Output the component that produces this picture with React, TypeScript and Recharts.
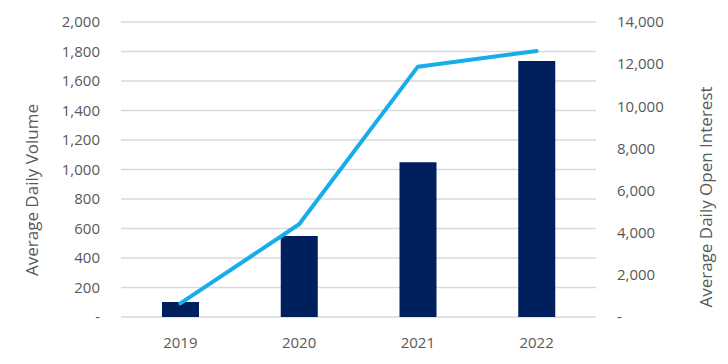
import { ComposedChart, Bar, Line, XAxis, YAxis, CartesianGrid } from "recharts";

const years = ["2019", "2020", "2021", "2022"];
const avgDailyVolume = [102, 550, 1050, 1735];
const avgDailyOpenInterest = [650, 4400, 11880, 12620];
const volumeTicks = [0, 200, 400, 600, 800, 1000, 1200, 1400, 1600, 1800, 2000];
const openInterestTicks = [0, 2000, 4000, 6000, 8000, 10000, 12000, 14000];

const data = years.map((year, i) => ({
  year,
  volume: avgDailyVolume[i],
  openInterest: avgDailyOpenInterest[i],
}));

const FONT = "'Open Sans', sans-serif";
const GRAY = "#595959";

const fmt = (v: number) => (v === 0 ? "-" : v.toLocaleString("en-US"));

// Excel-style rotated axis title
const axisTitle = (text: string, x: number, y: number) => () => (
  <text
    x={x}
    y={y}
    transform={`rotate(-90, ${x}, ${y})`}
    textAnchor="middle"
    dominantBaseline="central"
    fill={GRAY}
    fontSize={17}
    fontFamily={FONT}
  >
    {text}
  </text>
);

export default function App() {
  return (
    <div style={{ position: "absolute", left: 0, top: 0, background: "#fff" }}>
      <ComposedChart
        width={728}
        height={364}
        data={data}
        margin={{ top: 22, right: 0, bottom: 17, left: 0 }}
        barSize={37}
      >
        <CartesianGrid yAxisId="left" vertical={false} stroke="#D9D9D9" strokeWidth={1.5} />
        <XAxis
          dataKey="year"
          axisLine={false}
          tickLine={false}
          tickSize={0}
          tickMargin={20}
          height={30}
          tick={{ fill: GRAY, fontSize: 15, fontFamily: FONT }}
        />
        <YAxis
          yAxisId="left"
          width={121}
          domain={[0, 2000]}
          ticks={volumeTicks}
          tickFormatter={fmt}
          axisLine={false}
          tickLine={false}
          tickSize={0}
          tickMargin={21}
          tick={{ fill: GRAY, fontSize: 15, fontFamily: FONT }}
          label={{ content: axisTitle("Average Daily Volume", 31, 190) }}
        />
        <YAxis
          yAxisId="right"
          orientation="right"
          width={132}
          domain={[0, 14000]}
          ticks={openInterestTicks}
          tickFormatter={fmt}
          axisLine={false}
          tickLine={false}
          tickSize={0}
          tickMargin={21}
          tick={{ fill: GRAY, fontSize: 15, fontFamily: FONT, textAnchor: "start" }}
          label={{ content: axisTitle("Average Daily Open Interest", 705, 197) }}
        />
        <Bar yAxisId="left" dataKey="volume" fill="#001F5F" isAnimationActive={false} />
        <Line
          yAxisId="right"
          dataKey="openInterest"
          stroke="#17ADE8"
          strokeWidth={4}
          strokeLinecap="round"
          strokeLinejoin="round"
          dot={false}
          activeDot={false}
          isAnimationActive={false}
        />
      </ComposedChart>
    </div>
  );
}
